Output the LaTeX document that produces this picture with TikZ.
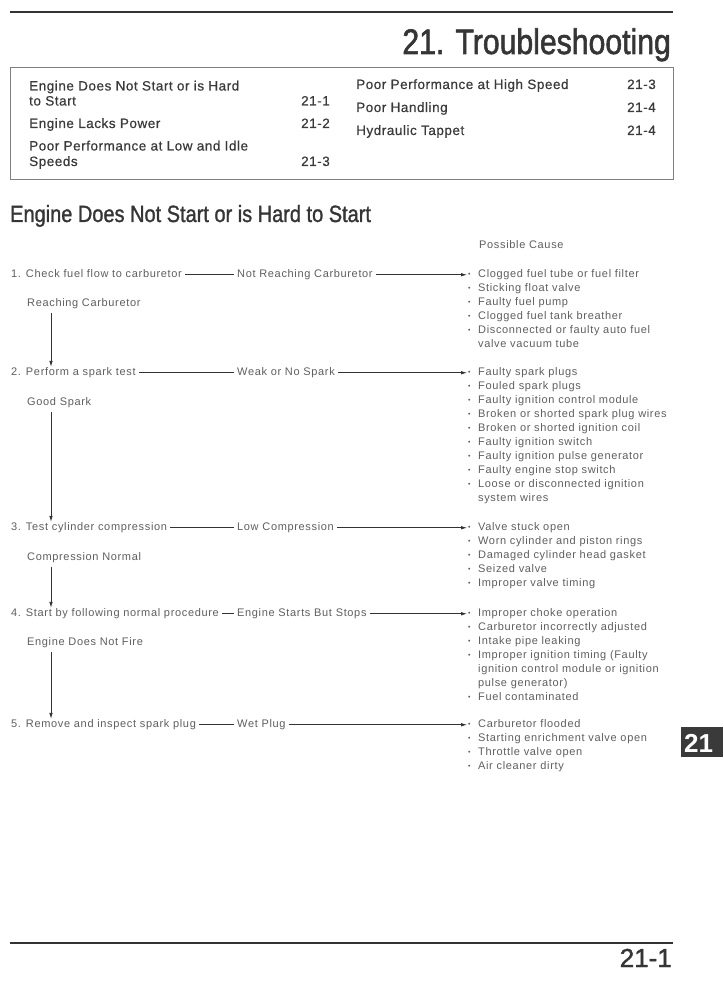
\documentclass[tikz,border=0pt]{standalone}
\usepackage{fontspec}
\setmainfont{Liberation Sans}
\newfontfamily\condfont[FakeStretch=0.85,FakeBold=1.6]{Liberation Sans}
\newfontfamily\headfont[FakeStretch=0.85,FakeBold=1.2]{Liberation Sans}
\newfontfamily\numfont[FakeBold=1.6]{Liberation Sans}
\newfontfamily\flowfont[LetterSpace=6]{Liberation Sans}
\newfontfamily\boxfont[LetterSpace=4,FakeBold=0.6]{Liberation Sans}
\usetikzlibrary{arrows.meta}
\definecolor{flowgray}{HTML}{5E5E5E}
\definecolor{tocgray}{HTML}{3A3A3A}
\definecolor{linegray}{HTML}{333333}
\definecolor{titlegray}{HTML}{353535}
\definecolor{tabgray}{HTML}{3A3A3A}
\newcommand\bul{{\fontsize{7}{7}\selectfont\raisebox{0.8pt}{•}}}
\tikzset{
  flow/.style={font=\flowfont\fontsize{11}{14}\selectfont, text=flowgray, inner xsep=3pt, inner ysep=0.5pt, text height=8pt, text depth=2.5pt, anchor=base west},
  causes/.style={font=\flowfont\fontsize{11}{14}\selectfont, text=flowgray, inner sep=0pt, anchor=base west},
  tocitem/.style={font=\boxfont\fontsize{13.5}{15}\selectfont, text=tocgray, inner sep=0pt, anchor=base west},
  tocnum/.style={tocitem, anchor=base east},
  conn/.style={draw=linegray, line width=0.8pt},
  arr/.style={conn, -{Latex[length=6pt,width=3.6pt]}},
}
\begin{document}
\begin{tikzpicture}[x=1pt,y=-1pt]
\useasboundingbox (0,0) rectangle (723,1000);
% header
\draw[linegray, line width=2pt] (10,12) -- (673,12);
\node[anchor=base east, inner sep=0pt, font=\condfont\fontsize{35.5}{40}\selectfont, text=titlegray] (title) at (671,54) {21. Troubleshooting};
% contents box
\draw[draw=gray, line width=0.8pt] (10,67) rectangle (673,179);
\node[tocitem] (t1a) at (29,90.5) {Engine Does Not Start or is Hard};
\node[tocitem] (t1b) at (29,105.5) {to Start};
\node[tocnum] (p1) at (330,105.5) {21-1};
\node[tocitem] (t2) at (29,128) {Engine Lacks Power};
\node[tocnum] (p2) at (330,128) {21-2};
\node[tocitem] (t3a) at (29,150.5) {Poor Performance at Low and Idle};
\node[tocitem] (t3b) at (29,166) {Speeds};
\node[tocnum] (p3) at (330,166) {21-3};
\node[tocitem] (t4) at (356,89) {Poor Performance at High Speed};
\node[tocnum] (p4) at (656,89) {21-3};
\node[tocitem] (t5) at (356,112) {Poor Handling};
\node[tocnum] (p5) at (656,112) {21-4};
\node[tocitem] (t6) at (356,135) {Hydraulic Tappet};
\node[tocnum] (p6) at (656,135) {21-4};
% section heading
\node[anchor=base west, inner sep=0pt, font=\headfont\fontsize{23.5}{28}\selectfont, text=titlegray] (heading) at (10,222) {Engine Does Not Start or is Hard to Start};
\node[causes] (pc) at (479,248.5) {Possible Cause};
% steps
\node[flow] (s1) at (8,277.5) {1. Check fuel flow to carburetor};
\node[flow] (n1) at (234,277.5) {Not Reaching Carburetor};
\node[flow] (r1) at (24,306.5) {Reaching Carburetor};
\node[flow] (s2) at (8,375.5) {2. Perform a spark test};
\node[flow] (n2) at (234,375.5) {Weak or No Spark};
\node[flow] (r2) at (24,405.5) {Good Spark};
\node[flow] (s3) at (8,530.5) {3. Test cylinder compression};
\node[flow] (n3) at (234,530.5) {Low Compression};
\node[flow] (r3) at (24,560.5) {Compression Normal};
\node[flow] (s4) at (8,616.5) {4. Start by following normal procedure};
\node[flow] (n4) at (234,616.5) {Engine Starts But Stops};
\node[flow] (r4) at (24,645.5) {Engine Does Not Fire};
\node[flow] (s5) at (8,727.5) {5. Remove and inspect spark plug};
\node[flow] (n5) at (234,727.5) {Wet Plug};
% causes
\node[causes] (c1) at (468,277.5) {\begin{tabular}[t]{@{}l@{\hspace{7.5pt}}l@{}}
\bul & Clogged fuel tube or fuel filter\\
\bul & Sticking float valve\\
\bul & Faulty fuel pump\\
\bul & Clogged fuel tank breather\\
\bul & Disconnected or faulty auto fuel\\
 & valve vacuum tube
\end{tabular}};
\node[causes] (c2) at (468,375.5) {\begin{tabular}[t]{@{}l@{\hspace{7.5pt}}l@{}}
\bul & Faulty spark plugs\\
\bul & Fouled spark plugs\\
\bul & Faulty ignition control module\\
\bul & Broken or shorted spark plug wires\\
\bul & Broken or shorted ignition coil\\
\bul & Faulty ignition switch\\
\bul & Faulty ignition pulse generator\\
\bul & Faulty engine stop switch\\
\bul & Loose or disconnected ignition\\
 & system wires
\end{tabular}};
\node[causes] (c3) at (468,530.5) {\begin{tabular}[t]{@{}l@{\hspace{7.5pt}}l@{}}
\bul & Valve stuck open\\
\bul & Worn cylinder and piston rings\\
\bul & Damaged cylinder head gasket\\
\bul & Seized valve\\
\bul & Improper valve timing
\end{tabular}};
\node[causes] (c4) at (468,616.5) {\begin{tabular}[t]{@{}l@{\hspace{7.5pt}}l@{}}
\bul & Improper choke operation\\
\bul & Carburetor incorrectly adjusted\\
\bul & Intake pipe leaking\\
\bul & Improper ignition timing (Faulty\\
 & ignition control module or ignition\\
 & pulse generator)\\
\bul & Fuel contaminated
\end{tabular}};
\node[causes] (c5) at (468,727.5) {\begin{tabular}[t]{@{}l@{\hspace{7.5pt}}l@{}}
\bul & Carburetor flooded\\
\bul & Starting enrichment valve open\\
\bul & Throttle valve open\\
\bul & Air cleaner dirty
\end{tabular}};
% connectors
\foreach \i in {1,...,5}{
  \draw[conn] (s\i.east) -- (n\i.west);
  \draw[arr, shorten >=1pt] (n\i.east) -- (n\i.east -| c\i.west);
}
\foreach \i/\j in {1/2,2/3,3/4,4/5}{
  \draw[arr, shorten <=3pt] ([xshift=27pt]r\i.south west) -- ([xshift=27pt]r\i.south west |- s\j.north);
}
% tab
\fill[tabgray] (681,727) rectangle (723,757);
\node[anchor=base west, inner sep=0pt, font=\bfseries\fontsize{26}{28}\selectfont, text=white] (tab) at (684,752) {21};
% footer
\draw[linegray, line width=2pt] (10,943) -- (673,943);
\node[anchor=base east, inner sep=0pt, font=\numfont\fontsize{26}{28}\selectfont, text=titlegray] (pageno) at (672,967) {21-1};
\end{tikzpicture}
\end{document}
